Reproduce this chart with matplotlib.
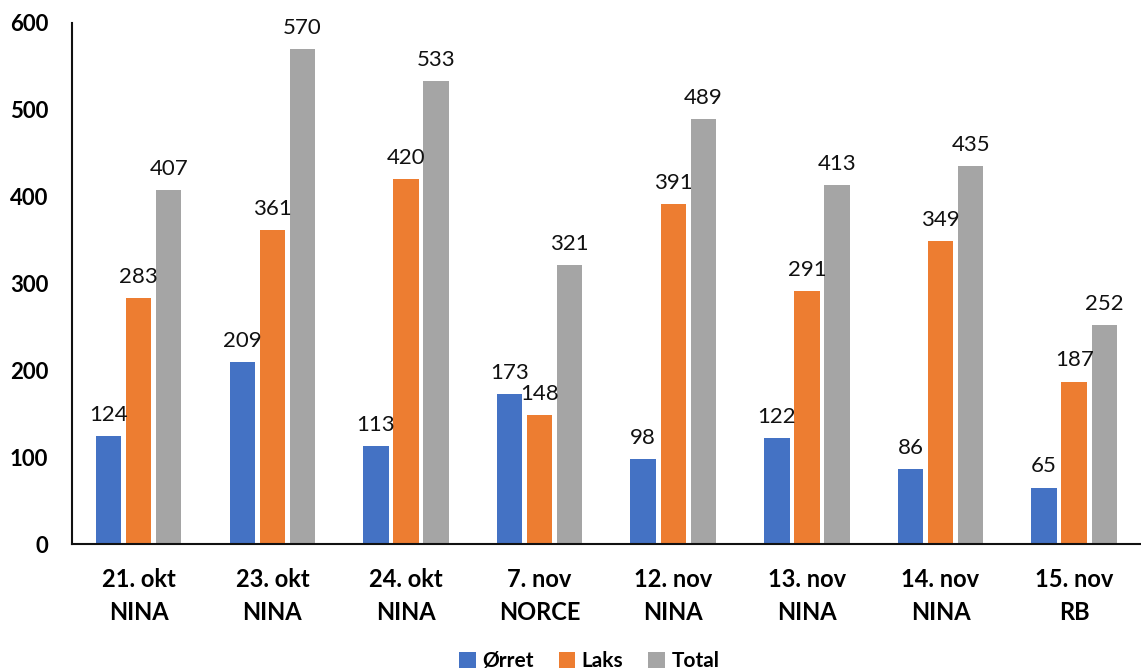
import matplotlib.pyplot as plt
import numpy as np

categories = ["21. okt\nNINA", "23. okt\nNINA", "24. okt\nNINA", "7. nov\nNORCE",
              "12. nov\nNINA", "13. nov\nNINA", "14. nov\nNINA", "15. nov\nRB"]
orret = [124, 209, 113, 173, 98, 122, 86, 65]
laks = [283, 361, 420, 148, 391, 291, 349, 187]
total = [407, 570, 533, 321, 489, 413, 435, 252]
series_names = ["Ørret", "Laks", "Total"]
colors = ["#4472C4", "#ED7D31", "#A5A5A5"]

plt.rcParams['font.family'] = ['Lato', 'DejaVu Sans']

fig = plt.figure(figsize=(11.41, 6.70), dpi=100)
ax = fig.add_axes([0.063, 0.188, 0.937, 0.778])

x = np.arange(len(categories))
width = 0.19
step = 0.225
for i, (vals, name, col) in enumerate(zip([orret, laks, total], series_names, colors)):
    bars = ax.bar(x + (i - 1) * step, vals, width, color=col, label=name)
    ax.bar_label(bars, labels=[str(v) for v in vals], padding=8, fontsize=16, color="#111111")

ax.set_xlim(-0.5, len(categories) - 0.5)
ax.set_ylim(0, 600)
ax.set_yticks(range(0, 601, 100))
ax.tick_params(axis='both', length=0)
ax.tick_params(axis='y', pad=17, labelsize=16)
ax.tick_params(axis='x', pad=17, labelsize=17)
ax.set_xticks(x)
ax.set_xticklabels(categories, fontweight='bold', linespacing=1.55)
for lbl in ax.get_yticklabels():
    lbl.set_fontweight('bold')

for side in ['top', 'right']:
    ax.spines[side].set_visible(False)
for side in ['left', 'bottom']:
    ax.spines[side].set_linewidth(1.5)
    ax.spines[side].set_color("#111111")

leg = ax.legend(loc='lower center', bbox_to_anchor=(0.484, -0.28), ncol=3, frameon=False,
                prop={'weight': 'bold', 'size': 15}, handlelength=0.8, handleheight=0.8,
                handletextpad=0.3, columnspacing=1.2)

fig.savefig("out.png", dpi=100)
